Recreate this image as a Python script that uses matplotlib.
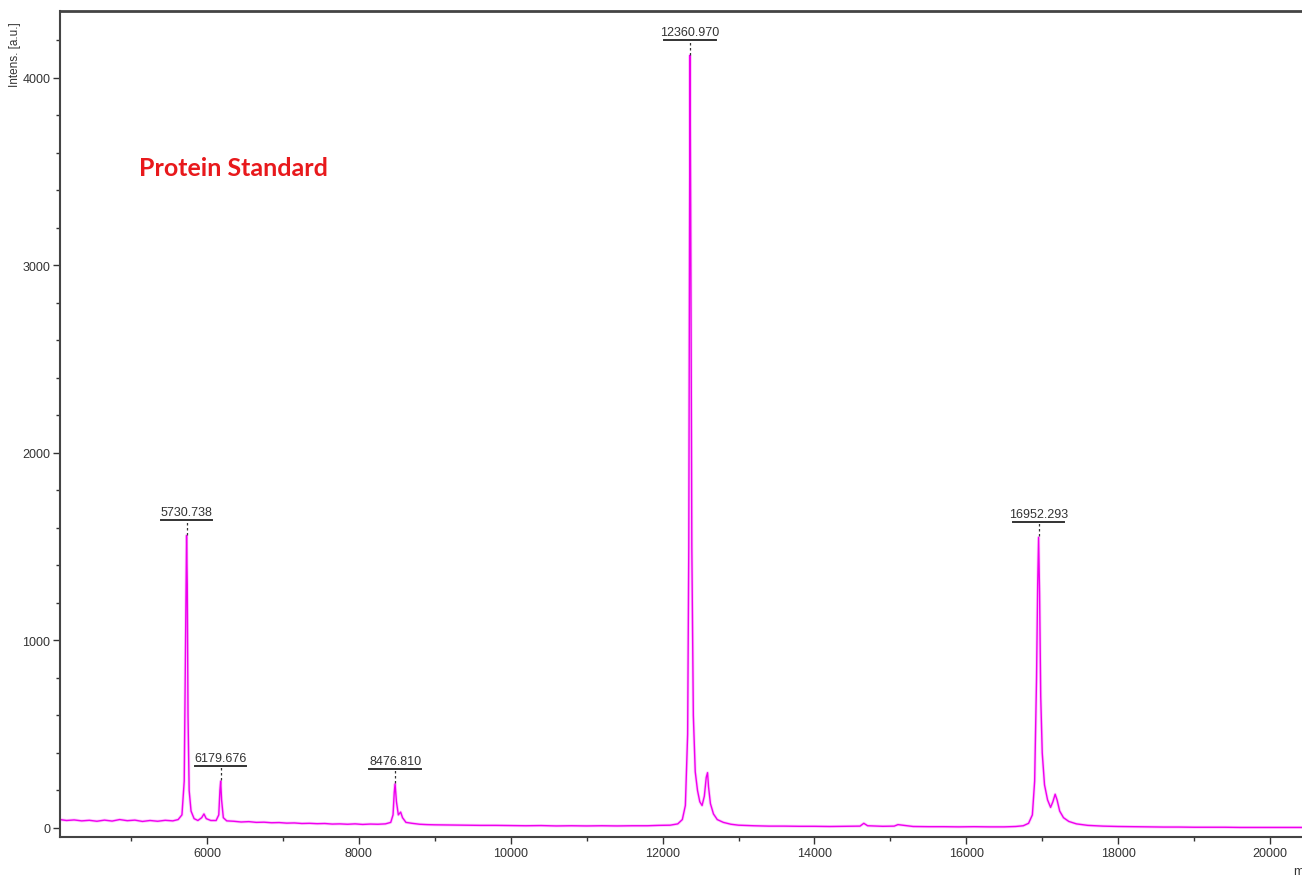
import matplotlib.pyplot as plt
import numpy as np
from matplotlib.ticker import MultipleLocator

plt.rcParams["font.family"] = ["Liberation Sans", "DejaVu Sans"]

# traced spectrum points (m/z, intensity)
mz = [4064, 4150, 4250, 4350, 4450, 4550, 4650, 4750, 4850, 4950, 5050, 5150,
      5250, 5350, 5450, 5550, 5620, 5670, 5700, 5715, 5731, 5740, 5750, 5765,
      5790, 5830, 5880, 5930, 5960, 5990, 6050, 6120, 6155, 6170, 6180, 6192,
      6215, 6260, 6350, 6450, 6550, 6650, 6750, 6850, 6950, 7050, 7150, 7250,
      7350, 7450, 7550, 7650, 7750, 7850, 7950, 8050, 8150, 8250, 8350, 8420,
      8450, 8466, 8477, 8495, 8520, 8550, 8575, 8620, 8700, 8800, 8900, 9000,
      9200, 9400, 9600, 9800, 10000, 10200, 10400, 10600, 10800, 11000, 11200,
      11400, 11600, 11800, 11950, 12100, 12200, 12260, 12300, 12330, 12345,
      12355, 12361, 12370, 12385, 12405, 12430, 12460, 12490, 12520, 12550,
      12575, 12592, 12605, 12630, 12670, 12720, 12800, 12900, 13000, 13200,
      13400, 13600, 13800, 14000, 14200, 14400, 14600, 14650, 14700, 14900,
      15050, 15100, 15300, 15500, 15700, 15900, 16100, 16300, 16500, 16650,
      16750, 16820, 16870, 16900, 16925, 16940, 16952, 16965, 16980, 17000,
      17030, 17070, 17110, 17140, 17170, 17195, 17230, 17280, 17350, 17450,
      17600, 17800, 18000, 18200, 18400, 18600, 18800, 19000, 19200, 19400,
      19600, 19800, 20000, 20200, 20421]
intensity = [45, 40, 43, 38, 41, 36, 42, 37, 45, 39, 42, 35,
             40, 36, 41, 38, 45, 70, 250, 900, 1560, 1300, 600, 200,
             90, 50, 40, 55, 75, 50, 40, 40, 70, 200, 250, 150,
             55, 38, 36, 32, 34, 30, 31, 28, 29, 26, 27, 24,
             25, 23, 24, 21, 22, 20, 22, 19, 21, 20, 22, 30,
             70, 190, 235, 140, 70, 85, 55, 30, 25, 20, 18, 17,
             16, 15, 14, 14, 13, 12, 13, 11, 12, 11, 12,
             11, 12, 12, 14, 15, 22, 45, 120, 500, 1500,
             3200, 4120, 3300, 1500, 600, 300, 200, 140, 120, 170,
             270, 295, 220, 130, 75, 45, 30, 20, 15, 12,
             10, 10, 9, 9, 8, 9, 10, 25, 12, 9,
             10, 18, 8, 7, 7, 6, 7, 6, 6, 8,
             12, 25, 70, 250, 800, 1300, 1550, 1250, 700, 400,
             230, 150, 110, 140, 180, 150, 90, 55, 35, 22,
             14, 10, 8, 7, 6, 5, 5, 4, 4, 4,
             3, 3, 3, 3, 3]

# labelled peaks
peak_mz = [5730.738, 6179.676, 8476.810, 12360.970, 16952.293]
peak_int = [1560, 250, 235, 4120, 1550]

fig = plt.figure(figsize=(13.02, 8.78), dpi=100)
ax = fig.add_axes([60 / 1302, 40 / 878, 1 - 60 / 1302, 826 / 878])

ax.plot(mz, intensity, color="#ff66ff", lw=2.2, alpha=0.35)
ax.plot(mz, intensity, color="#ee00ee", lw=1.0)

for x, y in zip(peak_mz, peak_int):
    ax.plot([x, x], [y + 5, y + 80], color="#333333", lw=0.9, ls=(0, (2, 2)))
    ax.plot([x - 340, x + 340], [y + 80, y + 80], color="#333333", lw=1.4)
    ax.text(x, y + 92, f"{x:.3f}", ha="center", va="bottom", fontsize=9,
            color="#333333")

ax.text(5100, 3480, "Protein Standard", color="#e8191c", fontsize=18,
        fontweight="bold", family=["Lato", "DejaVu Sans"])

ax.set_xlim(4064, 20421)
ax.set_ylim(-48, 4357)
ax.xaxis.set_major_locator(MultipleLocator(2000))
ax.xaxis.set_minor_locator(MultipleLocator(1000))
ax.yaxis.set_major_locator(MultipleLocator(1000))
ax.yaxis.set_minor_locator(MultipleLocator(200))
ax.tick_params(which="both", direction="out", colors="#333333", labelsize=9,
               width=1, pad=2)
ax.tick_params(which="major", length=5)
ax.tick_params(which="minor", length=3)
for s in ["left", "bottom", "top"]:
    ax.spines[s].set_color("#444444")
    ax.spines[s].set_linewidth(1.5)
ax.spines["top"].set_linewidth(2)
ax.spines["right"].set_visible(False)

fig.text(15 / 1302, 1 - 55 / 878, "Intens. [a.u.]", rotation=90, ha="center",
         va="center", fontsize=8.5, color="#333333")
fig.text(1293 / 1302, 1 - 872 / 878, "m/z", ha="left", va="center",
         fontsize=9, color="#333333")

fig.savefig("out.png", dpi=100)
